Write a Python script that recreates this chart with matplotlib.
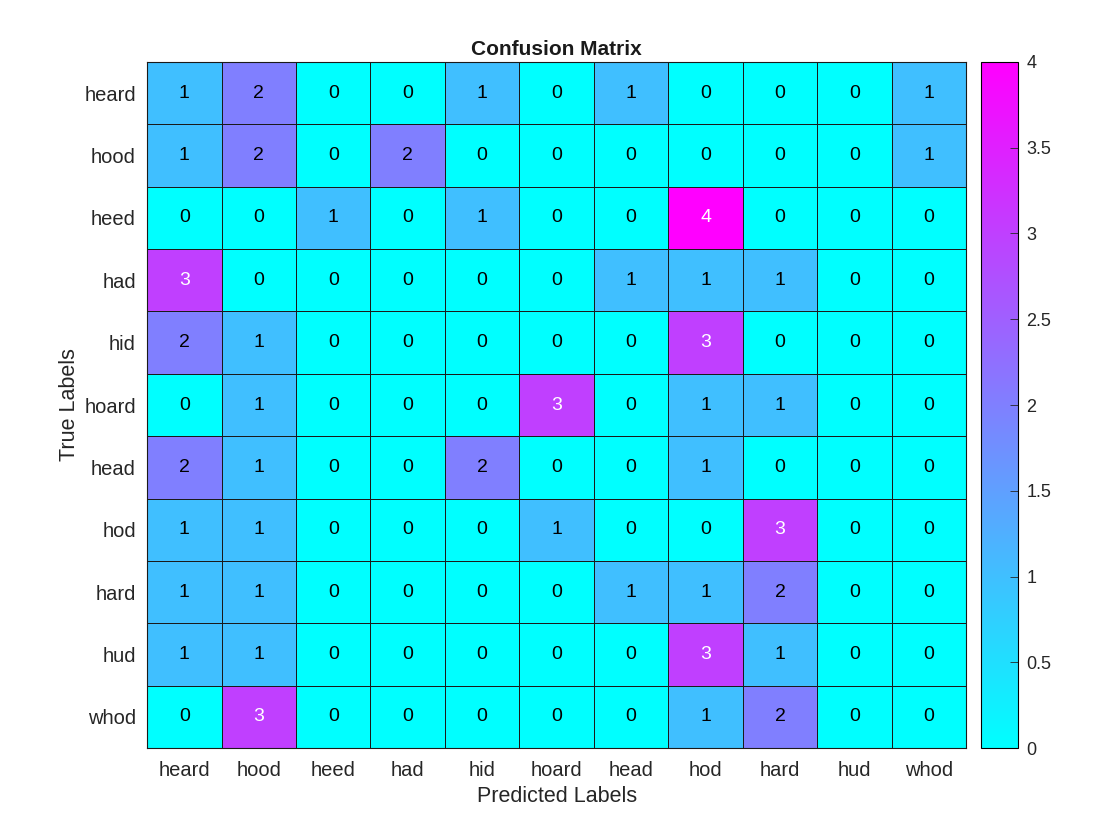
import matplotlib.pyplot as plt
import numpy as np

plt.rcParams['font.family'] = ['Liberation Sans', 'DejaVu Sans']

labels = ['heard', 'hood', 'heed', 'had', 'hid', 'hoard', 'head', 'hod', 'hard', 'hud', 'whod']
counts = [
    [1, 2, 0, 0, 1, 0, 1, 0, 0, 0, 1],
    [1, 2, 0, 2, 0, 0, 0, 0, 0, 0, 1],
    [0, 0, 1, 0, 1, 0, 0, 4, 0, 0, 0],
    [3, 0, 0, 0, 0, 0, 1, 1, 1, 0, 0],
    [2, 1, 0, 0, 0, 0, 0, 3, 0, 0, 0],
    [0, 1, 0, 0, 0, 3, 0, 1, 1, 0, 0],
    [2, 1, 0, 0, 2, 0, 0, 1, 0, 0, 0],
    [1, 1, 0, 0, 0, 1, 0, 0, 3, 0, 0],
    [1, 1, 0, 0, 0, 0, 1, 1, 2, 0, 0],
    [1, 1, 0, 0, 0, 0, 0, 3, 1, 0, 0],
    [0, 3, 0, 0, 0, 0, 0, 1, 2, 0, 0],
]
cm = np.array(counts)
n = len(labels)

fig = plt.figure(figsize=(11.2, 8.4), dpi=100)
ax = fig.add_axes([0.1313, 0.1095, 0.7313, 0.8167])
cax = fig.add_axes([0.8759, 0.1095, 0.033, 0.8167])

im = ax.pcolormesh(np.arange(n + 1), np.arange(n + 1), cm, cmap='cool',
                   vmin=0, vmax=4, edgecolor='#1a1a1a', linewidth=0.6)
ax.set_xlim(0, n)
ax.set_ylim(n, 0)

for i in range(n):
    for j in range(n):
        v = cm[i, j]
        ax.text(j + 0.5, i + 0.5, str(v), ha='center', va='center',
                fontsize=14, color='white' if v >= 3 else 'black')

ax.set_xticks(np.arange(n) + 0.5)
ax.set_xticklabels(labels)
ax.set_yticks(np.arange(n) + 0.5)
ax.set_yticklabels(labels)
ax.tick_params(length=0, labelsize=14.5, colors='#262626')
ax.tick_params(axis='x', pad=9.5)
ax.tick_params(axis='y', pad=8)
for s in ax.spines.values():
    s.set_color('#1a1a1a')
    s.set_linewidth(0.8)

ax.set_xlabel('Predicted Labels', fontsize=15.5, color='#262626', labelpad=4)
ax.set_ylabel('True Labels', fontsize=15.5, color='#262626', labelpad=3)
ax.set_title('Confusion Matrix', fontsize=15, fontweight='bold', color='#1a1a1a', pad=5)

cb = fig.colorbar(im, cax=cax)
cb.set_ticks([0, 0.5, 1, 1.5, 2, 2.5, 3, 3.5, 4])
cb.set_ticklabels(['0', '0.5', '1', '1.5', '2', '2.5', '3', '3.5', '4'])
cb.ax.tick_params(direction='in', length=6, width=0.6, labelsize=13, pad=6, colors='#262626')
cb.outline.set_linewidth(0.8)

plt.savefig('out.png', dpi=100)
